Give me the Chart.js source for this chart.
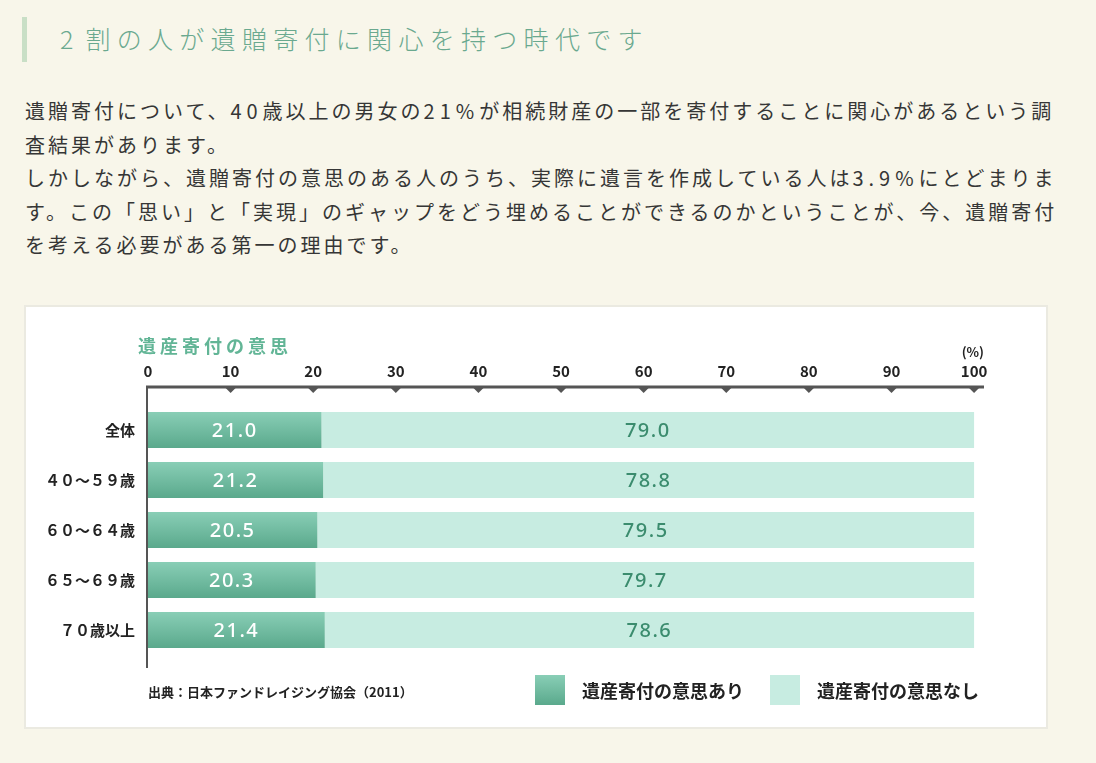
<!DOCTYPE html>
<html lang="ja">
<head>
<meta charset="utf-8">
<title>遺産寄付の意思</title>
<script src="https://cdn.jsdelivr.net/npm/chart.js@4.4.1/dist/chart.umd.min.js"></script>
<style>
  html, body {
    margin: 0;
    padding: 0;
    width: 1096px;
    height: 763px;
    overflow: hidden;
    background: #f8f6ea;
    font-family: "Noto Sans CJK JP", "Noto Sans", sans-serif;
  }

  .heading-bar {
    position: absolute;
    left: 22px;
    top: 17px;
    width: 5px;
    height: 45px;
    background: #c9dfc6;
  }

  .heading {
    position: absolute;
    left: 60px;
    top: 21px;
    margin: 0;
    font-size: 25px;
    font-weight: 300;
    line-height: 34px;
    letter-spacing: 6.3px;
    color: #6aa98f;
    white-space: nowrap;
  }
  .heading .lead-num { letter-spacing: 12px; }

  .lead {
    position: absolute;
    left: 25px;
    top: 94px;
    margin: 0;
    font-size: 20px;
    line-height: 33.5px;
    letter-spacing: 3px;
    color: #363636;
    white-space: nowrap;
  }
  .lead .num { letter-spacing: 5px; }

  .chart-box {
    position: absolute;
    left: 24px;
    top: 305px;
    width: 1020px;
    height: 420px;
    border: 2px solid #ebeae1;
    background: #fff;
  }

  .chart-box canvas {
    position: absolute;
    left: 0;
    top: 0;
  }

  .chart-title {
    position: absolute;
    left: 112px;
    top: 26px;
    font-size: 18px;
    font-weight: 700;
    letter-spacing: 4px;
    color: #62b596;
    line-height: 24px;
  }

  .source {
    position: absolute;
    left: 122px;
    top: 376px;
    font-size: 13px;
    font-weight: 700;
    color: #222;
    line-height: 18px;
    white-space: nowrap;
  }

  .legend-item {
    position: absolute;
    top: 368px;
    height: 30px;
    display: flex;
    align-items: center;
    font-size: 18px;
    font-weight: 700;
    color: #222;
    white-space: nowrap;
  }

  .legend-item .swatch {
    width: 30px;
    height: 30px;
    margin-right: 17px;
  }
</style>
</head>
<body>

<div class="heading-bar"></div>
<h2 class="heading"><span class="lead-num">2</span>割の人が遺贈寄付に関心を持つ時代です</h2>

<p class="lead">遺贈寄付について、<span class="num">40</span>歳以上の男女の<span class="num">21%</span>が相続財産の一部を寄付することに関心があるという調<br>査結果があります。<br>しかしながら、遺贈寄付の意思のある人のうち、実際に遺言を作成している人は<span class="num">3.9%</span>にとどまりま<br>す。この「思い」と「実現」のギャップをどう埋めることができるのかということが、今、遺贈寄付<br>を考える必要がある第一の理由です。</p>

<div class="chart-box">
  <canvas id="chart" width="1020" height="420"></canvas>
  <div class="chart-title">遺産寄付の意思</div>
  <div class="source">出典：日本ファンドレイジング協会（2011）</div>
  <div id="legend"></div>
</div>

<script>
const categories = ['全体', '４０～５９歳', '６０～６４歳', '６５～６９歳', '７０歳以上'];
const yesValues = [21.0, 21.2, 20.5, 20.3, 21.4];
const noValues = [79.0, 78.8, 79.5, 79.7, 78.6];
const seriesNames = ['遺産寄付の意思あり', '遺産寄付の意思なし'];
const tickValues = [0, 10, 20, 30, 40, 50, 60, 70, 80, 90, 100];
const axisUnit = '(%)';

const DARK_TOP = '#89ceb6';
const DARK_BOTTOM = '#5aa98c';
const LIGHT = '#c7ece1';
const AXIS = '#555555';

// per-bar vertical gradient for the dark series
function darkFill(c) {
  const chart = c.chart;
  const ys = chart.scales.y;
  if (!ys || !chart.chartArea || c.dataIndex == null) return DARK_BOTTOM;
  const yc = ys.getPixelForValue(c.dataIndex);
  const g = chart.ctx.createLinearGradient(0, yc - 18, 0, yc + 18);
  g.addColorStop(0, DARK_TOP);
  g.addColorStop(1, DARK_BOTTOM);
  return g;
}

// top axis line with small triangle ticks and the left axis line
const axisDecor = {
  id: 'axisDecor',
  afterDatasetsDraw(chart) {
    const { ctx, chartArea, scales } = chart;
    const lineY = chartArea.top - 18;
    ctx.save();
    ctx.strokeStyle = AXIS;
    ctx.fillStyle = AXIS;
    ctx.lineWidth = 3;
    ctx.beginPath();
    ctx.moveTo(chartArea.left - 2, lineY);
    ctx.lineTo(chartArea.right, lineY);
    ctx.stroke();

    ctx.lineWidth = 2;
    ctx.beginPath();
    ctx.moveTo(chartArea.left - 1, lineY);
    ctx.lineTo(chartArea.left - 1, chartArea.bottom + 13);
    ctx.stroke();

    tickValues.forEach(v => {
      if (v === 0) return;
      const px = scales.x.getPixelForValue(v);
      ctx.beginPath();
      ctx.moveTo(px - 5, lineY + 1);
      ctx.lineTo(px + 5, lineY + 1);
      ctx.lineTo(px, lineY + 6);
      ctx.closePath();
      ctx.fill();
    });
    ctx.restore();
  }
};

// value labels in the middle of each bar segment
const barValues = {
  id: 'barValues',
  afterDatasetsDraw(chart) {
    const ctx = chart.ctx;
    ctx.save();
    ctx.font = '500 20px "Noto Sans", "Noto Sans CJK JP", sans-serif';
    ctx.textAlign = 'center';
    ctx.textBaseline = 'middle';
    if ('letterSpacing' in ctx) ctx.letterSpacing = '1.5px';
    chart.data.datasets.forEach((ds, i) => {
      ctx.fillStyle = i === 0 ? '#ffffff' : '#3b8c6e';
      chart.getDatasetMeta(i).data.forEach((bar, j) => {
        const p = bar.getProps(['x', 'y', 'base'], true);
        ctx.fillText(ds.data[j].toFixed(1), (p.x + p.base) / 2, p.y + 1);
      });
    });
    ctx.restore();
  }
};

const chart = new Chart(document.getElementById('chart').getContext('2d'), {
  type: 'bar',
  data: {
    labels: categories,
    datasets: [
      {
        label: seriesNames[0],
        data: yesValues,
        backgroundColor: darkFill,
        borderWidth: 0,
        barPercentage: 0.72,
        categoryPercentage: 1
      },
      {
        label: seriesNames[1],
        data: noValues,
        backgroundColor: LIGHT,
        borderWidth: 0,
        barPercentage: 0.72,
        categoryPercentage: 1
      }
    ]
  },
  options: {
    indexAxis: 'y',
    responsive: false,
    animation: false,
    layout: { padding: { left: 0, right: 62, top: 0, bottom: 72 } },
    plugins: {
      legend: { display: false },
      tooltip: { enabled: false }
    },
    scales: {
      x: {
        position: 'top',
        stacked: true,
        min: 0,
        max: 101.2,
        grid: { display: false, drawTicks: false },
        border: { display: false },
        ticks: {
          padding: 25,
          color: '#222',
          font: { family: '"Noto Sans CJK JP", sans-serif', size: 15, weight: 'bold' }
        },
        title: {
          display: true,
          text: axisUnit,
          align: 'end',
          color: '#222',
          font: { family: '"Noto Sans CJK JP", sans-serif', size: 13, weight: 'bold' },
          padding: { top: 37, bottom: 0 }
        },
        afterBuildTicks: s => { s.ticks = tickValues.map(v => ({ value: v })); },
        afterFit: s => { s.height = 98; }
      },
      y: {
        stacked: true,
        grid: { display: false, drawTicks: false },
        border: { display: false },
        ticks: {
          padding: 13,
          color: '#222',
          font: { family: '"Noto Sans CJK JP", sans-serif', size: 15, weight: 'bold' }
        },
        afterFit: s => { s.width = 122; }
      }
    }
  },
  plugins: [axisDecor, barValues]
});

// html legend built from the series names
const legendEl = document.getElementById('legend');
const legendLeft = [509, 744];
seriesNames.forEach((name, i) => {
  const item = document.createElement('div');
  item.className = 'legend-item';
  item.style.left = legendLeft[i] + 'px';
  const sw = document.createElement('div');
  sw.className = 'swatch';
  sw.style.background = i === 0 ? `linear-gradient(${DARK_TOP}, ${DARK_BOTTOM})` : LIGHT;
  const txt = document.createElement('span');
  txt.textContent = name;
  item.appendChild(sw);
  item.appendChild(txt);
  legendEl.appendChild(item);
});
</script>
</body>
</html>
